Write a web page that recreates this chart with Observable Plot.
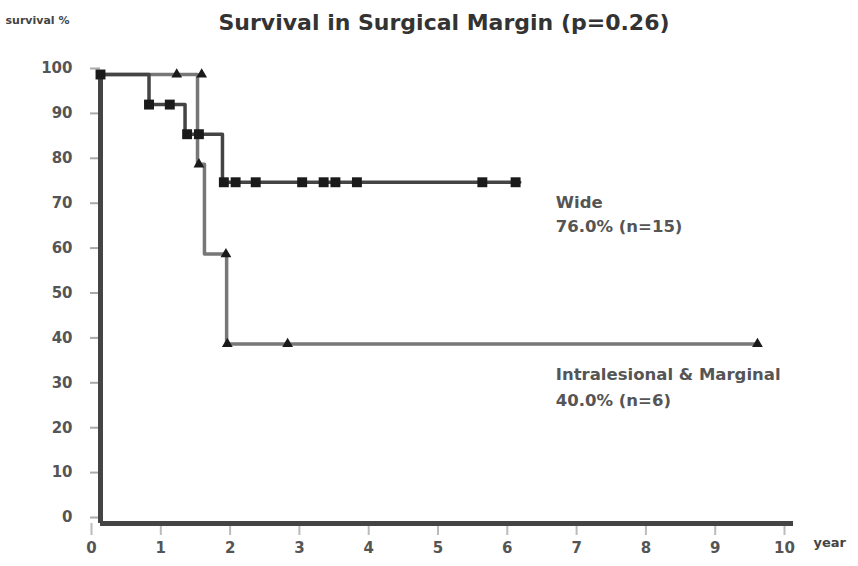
<!DOCTYPE html>
<html>
<head>
<meta charset="utf-8">
<script src="https://cdn.jsdelivr.net/npm/d3@7"></script>
<script src="https://cdn.jsdelivr.net/npm/@observablehq/plot@0.6"></script>
<style>
  html, body { margin: 0; padding: 0; background: #fff; }
  #chart svg { display: block; }
</style>
</head>
<body>
<div id="chart"></div>
<script>
// ---- data ----
const title = "Survival in Surgical Margin (p=0.26)";
const yAxisLabel = "survival %";
const xAxisLabel = "year";
const xTicks = [0, 1, 2, 3, 4, 5, 6, 7, 8, 9, 10];
const yTicks = [0, 10, 20, 30, 40, 50, 60, 70, 80, 90, 100];

// Wide margin: step curve corners (year, survival %)
const wideYears    = [0, 0.70, 1.22, 1.76, 6.05];
const wideSurvival = [100, 93.3, 86.7, 76.0, 76.0];
// Wide margin: square markers
const wideMarkYears    = [0, 0.70, 1.00, 1.25, 1.42, 1.78, 1.95, 2.24, 2.91, 3.22, 3.39, 3.70, 5.51, 5.99];
const wideMarkSurvival = [100, 93.3, 93.3, 86.7, 86.7, 76.0, 76.0, 76.0, 76.0, 76.0, 76.0, 76.0, 76.0, 76.0];

// Intralesional & Marginal: step curve corners
const intraYears    = [0, 1.40, 1.50, 1.82, 9.48];
const intraSurvival = [100, 80, 60, 40, 40];
// Intralesional & Marginal: triangle markers
const intraMarkYears    = [1.10, 1.46, 1.42, 1.81, 1.83, 2.70, 9.48];
const intraMarkSurvival = [100, 100, 80, 60, 40, 40, 40];

const wideLabel  = "Wide\n76.0% (n=15)";
const intraLabel = "Intralesional & Marginal\n40.0% (n=6)";

// ---- build tables ----
const wide = wideYears.map((t, i) => ({t, s: wideSurvival[i]}));
const wideMarks = wideMarkYears.map((t, i) => ({t, s: wideMarkSurvival[i]}));
const intra = intraYears.map((t, i) => ({t, s: intraSurvival[i]}));
const intraMarks = intraMarkYears.map((t, i) => ({t, s: intraMarkSurvival[i]}));

const chart = Plot.plot({
  width: 858,
  height: 566,
  marginLeft: 100,
  marginRight: 65,
  marginTop: 74,
  marginBottom: 43,
  style: {fontFamily: "'DejaVu Sans', sans-serif", fontWeight: "bold", background: "#fff"},
  x: {domain: [0, 10]},
  y: {domain: [0, 100]},
  marks: [
    // tick stubs and labels
    Plot.axisY(yTicks, {tickSize: 10, tickPadding: 18, stroke: "#aaa", strokeWidth: 2, fill: "#555", fontSize: 15, dy: -6, label: null}),
    Plot.axisX(xTicks, {tickSize: 12, tickPadding: 7, stroke: "#bbb", strokeWidth: 2, fill: "#555", fontSize: 15, dx: -9, label: null}),
    // curves
    Plot.line(intra, {x: "t", y: "s", curve: "step-after", stroke: "#777", strokeWidth: 3.5}),
    Plot.line(wide, {x: "t", y: "s", curve: "step-after", stroke: "#444", strokeWidth: 3.5}),
    // axis lines
    Plot.ruleX([0], {stroke: "#444", strokeWidth: 5}),
    Plot.ruleY([0], {stroke: "#444", strokeWidth: 5}),
    // markers
    Plot.dot(intraMarks, {x: "t", y: "s", symbol: "triangle", r: 4, fill: "#1a1a1a"}),
    Plot.dot(wideMarks, {x: "t", y: "s", symbol: "square", r: 5.6, fill: "#1a1a1a"}),
    // legends by the curves
    Plot.text([wideLabel], {x: 6.57, y: 69.4, text: d => d, textAnchor: "start", lineHeight: 1.45, fontSize: 16.5, fill: "#555"}),
    Plot.text([intraLabel], {x: 6.57, y: 30.9, text: d => d, textAnchor: "start", lineHeight: 1.55, fontSize: 16.5, fill: "#555"}),
    // title and axis names
    Plot.text([title], {frameAnchor: "top", text: d => d, dy: -60, dx: -3, fontSize: 22, fill: "#333"}),
    Plot.text([yAxisLabel], {frameAnchor: "top-left", text: d => d, dx: -95, dy: -58, textAnchor: "start", fontSize: 11, fill: "#444"}),
    Plot.text([xAxisLabel], {frameAnchor: "bottom-right", text: d => d, dx: 20, dy: 23, textAnchor: "start", fontSize: 13, fill: "#444"})
  ]
});
document.getElementById("chart").appendChild(chart);
</script>
</body>
</html>
